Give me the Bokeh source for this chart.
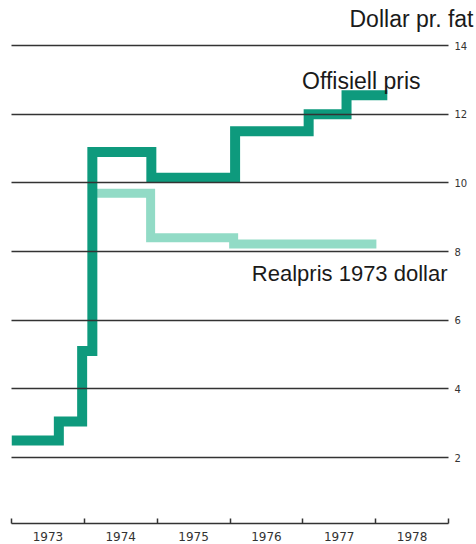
from bokeh.plotting import figure
from bokeh.models import Range1d, LinearAxis, FixedTicker, Label, Grid
from bokeh.embed import file_html
from bokeh.resources import INLINE

# Data
off_years = [1973.0, 1973.65, 1973.97, 1974.11, 1974.92, 1976.07, 1977.08, 1977.60, 1978.16]
off_price = [2.5, 3.05, 5.1, 10.9, 10.15, 11.5, 12.0, 12.55, 12.55]

real_years = [1974.11, 1974.91, 1976.05, 1978.01]
real_price = [9.7, 8.4, 8.22, 8.22]

year_bounds = [1973, 1974, 1975, 1976, 1977, 1978, 1979]
year_labels = ["1973", "1974", "1975", "1976", "1977", "1978"]
y_ticks = [2, 4, 6, 8, 10, 12, 14]

DARK = "#0e9a7d"
LIGHT = "#92dbc6"
TXT = "#1a1a1a"
font = "Liberation Sans"

p = figure(width=476, height=544, output_backend="svg", toolbar_location=None,
           x_range=Range1d(1973, 1979), y_range=Range1d(0.08, 14.35),
           x_axis_location=None, y_axis_location=None,
           min_border_left=11, min_border_right=28, min_border_top=33, min_border_bottom=21)
p.outline_line_color = None
p.background_fill_color = "white"
p.border_fill_color = "white"
for g in p.grid:
    g.visible = False

p.title.text = "Dollar pr. fat"
p.title.align = "right"
p.title.offset = -25
p.title.standoff = 4
p.title.text_font = font
p.title.text_font_size = "23px"
p.title.text_font_style = "normal"
p.title.text_color = TXT

label_pos = [b + 0.5 for b in year_bounds[:-1]]
xaxis = LinearAxis(ticker=FixedTicker(ticks=label_pos, minor_ticks=year_bounds))
xaxis.major_label_overrides = {pos: lab for pos, lab in zip(label_pos, year_labels)}
xaxis.major_tick_in = 0
xaxis.major_tick_out = 0
xaxis.minor_tick_in = 5
xaxis.minor_tick_out = 0
xaxis.minor_tick_line_color = "#333333"
xaxis.minor_tick_line_width = 1.5
xaxis.axis_line_color = "#333333"
xaxis.axis_line_width = 1.5
xaxis.major_label_standoff = 8
xaxis.major_label_text_font = "DejaVu Sans"
xaxis.major_label_text_font_size = "12px"
xaxis.major_label_text_color = "#333333"
p.add_layout(xaxis, "below")

yaxis = LinearAxis(ticker=FixedTicker(ticks=y_ticks))
yaxis.axis_line_color = None
yaxis.major_tick_in = 0
yaxis.major_tick_out = 0
yaxis.minor_tick_line_color = None
yaxis.major_label_standoff = 6
yaxis.major_label_text_font = "DejaVu Sans"
yaxis.major_label_text_font_size = "10px"
yaxis.major_label_text_color = "#333333"
p.add_layout(yaxis, "right")

p.step(real_years, real_price, mode="after", line_color=LIGHT, line_width=9,
       line_join="miter", line_cap="butt")
p.step(off_years, off_price, mode="after", line_color=DARK, line_width=10,
       line_join="miter", line_cap="butt")

grid = Grid(dimension=1, ticker=yaxis.ticker, grid_line_color="#333333",
            grid_line_width=1.4, level="overlay")
p.add_layout(grid)

p.add_layout(Label(x=1976.99, y=12.98, text="Offisiell pris", text_align="left",
                   text_baseline="alphabetic", text_font=font, text_font_size="23px",
                   text_color=TXT))
p.add_layout(Label(x=1976.30, y=7.36, text="Realpris 1973 dollar", text_align="left",
                   text_baseline="alphabetic", text_font=font, text_font_size="22px",
                   text_color=TXT))

open("out.html", "w").write(file_html(p, INLINE))
